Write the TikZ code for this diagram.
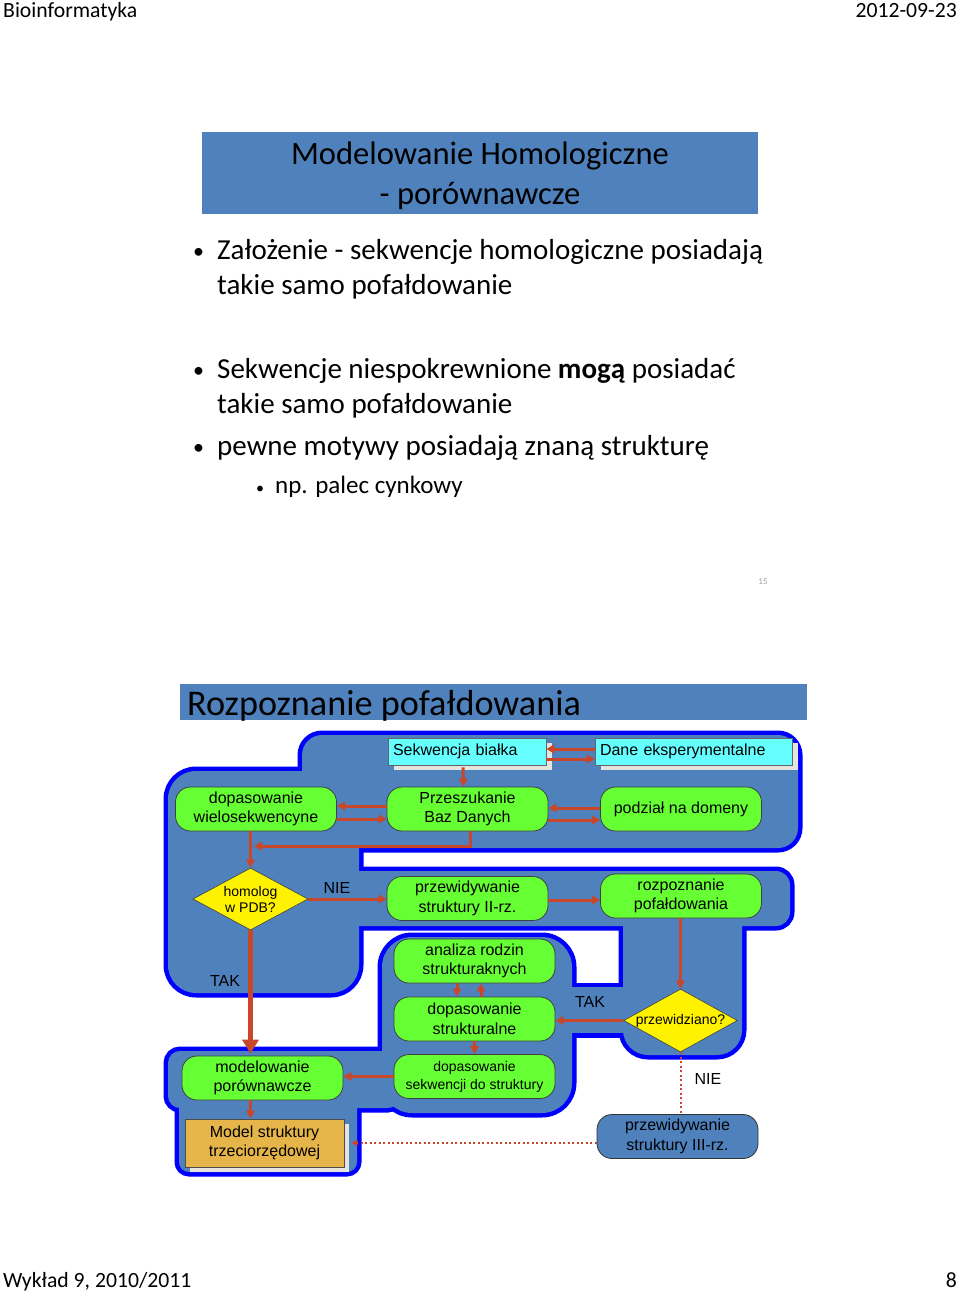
\documentclass[tikz,border=0pt]{standalone}
\usepackage{fontspec}
\setmainfont{Carlito}
\newfontfamily\arial{Liberation Sans}
\usetikzlibrary{arrows.meta,shapes.geometric}
\definecolor{hdr}{HTML}{4F81BD}
\definecolor{regline}{HTML}{0000FF}
\definecolor{grn}{HTML}{66FF33}
\definecolor{cyanbox}{HTML}{66FFFF}
\definecolor{goldbox}{HTML}{E6B54A}
\definecolor{arr}{HTML}{C8462A}
\definecolor{shad}{HTML}{E6E4DE}
\definecolor{pgnum}{HTML}{A0A0A0}
\begin{document}
\begin{tikzpicture}[x=1pt,y=-1pt,
  slidetxt/.style={anchor=base west, inner sep=0pt, font=\fontsize{29}{35}\selectfont},
  bultxt/.style={anchor=base west, inner sep=0pt, font=\fontsize{22}{26}\selectfont},
  subtxt/.style={anchor=base west, inner sep=0pt, font=\fontsize{25}{30}\selectfont},
  hdrtxt/.style={anchor=base west, inner sep=0pt, font=\fontsize{21.7}{26}\selectfont},
  gnode/.style={draw=black!75, line width=0.8pt, fill=grn, rounded corners=15pt, minimum width=161pt, minimum height=44pt, align=center, inner sep=0pt, font=\arial\fontsize{16}{19.5}\selectfont},
  cnode/.style={draw=black!60, line width=0.6pt, fill=cyanbox, minimum height=27pt, inner ysep=0pt, inner xsep=5pt, align=left, font=\arial\fontsize{16}{19}\selectfont},
  dnode/.style={diamond, aspect=1.85, draw=black!75, line width=0.6pt, fill=yellow, minimum width=115pt, minimum height=62pt, inner sep=0pt, align=center, font=\arial\fontsize{14}{16}\selectfont},
  lbl/.style={inner sep=0pt, font=\arial\fontsize{16}{19}\selectfont},
  arw/.style={draw=arr, line width=3pt, -{Triangle[length=8pt,width=8.5pt]}},
  thickarw/.style={draw=arr, line width=5.5pt, -{Triangle[length=14pt,width=16pt]}},
  dotline/.style={draw=arr, line width=2pt, dash pattern=on 2pt off 2.5pt},
  regborder/.style={draw=regline, line width=9pt},
]
\useasboundingbox (0,0) rectangle (960,1292);
\fill[white] (0,0) rectangle (960,1292);

% page header / footer
\node[hdrtxt] (hl) at (3,18) {Bioinformatyka};
\node[hdrtxt, anchor=base east] (hr) at (957,18) {2012-09-23};
\node[hdrtxt] (fl) at (3,1287) {Wykład 9, 2010/2011};
\node[hdrtxt, anchor=base east] (fr) at (957,1287) {8};

% slide 1
\fill[hdr] (202,132) rectangle (758,214);
\node[inner sep=0pt, align=center, font=\fontsize{32.6}{39.5}\selectfont] (t1) at (480,176) {Modelowanie Homologiczne\\- porównawcze};
\node[bultxt] (b1) at (193,258) {•};
\node[slidetxt] (s1) at (217,259) {Założenie - sekwencje homologiczne posiadają};
\node[slidetxt] (s1b) at (217,294) {takie samo pofałdowanie};
\node[bultxt] (b2) at (193,377) {•};
\node[slidetxt] (s2) at (217,378) {Sekwencje niespokrewnione \textbf{mogą} posiadać};
\node[slidetxt] (s2b) at (217,413) {takie samo pofałdowanie};
\node[bultxt] (b3) at (193,454) {•};
\node[slidetxt] (s3) at (217,455) {pewne motywy posiadają znaną strukturę};
\node[subtxt] (b4) at (256,493) {\fontsize{16}{18}\selectfont •};
\node[subtxt] (s4) at (275,493) {np. palec cynkowy};
\node[inner sep=0pt, text=pgnum, font=\fontsize{9}{10}\selectfont] (pn) at (763,582) {15};

% slide 2 header
\fill[hdr] (180,684) rectangle (807,720);
\node[anchor=base west, inner sep=0pt, font=\fontsize{36.2}{42}\selectfont] (t2) at (187,715) {Rozpoznanie pofałdowania};

% blue regions: borders first
\path[regborder, rounded corners=20pt] (302,735) rectangle (798,848);
\path[regborder, rounded corners=28pt] (168,771) rectangle (359,993);
\path[regborder, rounded corners=14pt] (330,871) rectangle (790,926);
\path[regborder, rounded corners=25pt] (623,900) rectangle (742,1055);
\path[regborder, rounded corners=30pt] (382,937) rectangle (572,1113);
\path[regborder] (560,987) rectangle (635,1033);
\path[regborder, rounded corners=12pt] (168,1051) rectangle (400,1108);
\path[regborder, rounded corners=10pt] (179,1095) rectangle (357,1172);
% then fills
\fill[hdr, rounded corners=20pt] (302,735) rectangle (798,848);
\fill[hdr, rounded corners=28pt] (168,771) rectangle (359,993);
\fill[hdr, rounded corners=14pt] (330,871) rectangle (790,926);
\fill[hdr, rounded corners=25pt] (623,900) rectangle (742,1055);
\fill[hdr, rounded corners=30pt] (382,937) rectangle (572,1113);
\fill[hdr] (560,987) rectangle (635,1033);
\fill[hdr, rounded corners=12pt] (168,1051) rectangle (400,1108);
\fill[hdr, rounded corners=10pt] (179,1095) rectangle (357,1172);

% cyan boxes with shadows
\fill[shad] (394,743) rectangle (552,770);
\fill[shad] (601,743) rectangle (798,770);
\node[cnode, text width=148pt] (sekw) at (467,751.5) {Sekwencja białka};
\node[cnode, text width=187pt] (dane) at (693.5,751.5) {Dane eksperymentalne};

% green nodes
\node[gnode] (dop) at (256,809) {dopasowanie\\wielosekwencyne};
\node[gnode] (prz) at (467.5,809) {Przeszukanie\\Baz Danych};
\node[gnode] (pod) at (681,809) {podział na domeny};
\node[gnode] (ps2) at (467.5,898.5) {przewidywanie\\struktury II-rz.};
\node[gnode] (roz) at (681,896) {rozpoznanie\\pofałdowania};
\node[gnode] (ana) at (474.5,961) {analiza rodzin\\strukturaknych};
\node[gnode] (dst) at (474.5,1019) {dopasowanie\\strukturalne};
\node[gnode, font=\arial\fontsize{14}{18}\selectfont] (dsk) at (474.5,1076.5) {dopasowanie\\sekwencji do struktury};
\node[gnode] (mod) at (262.5,1078) {modelowanie\\porównawcze};

% Model box with shadow
\fill[shad] (190,1124) rectangle (349,1172);
\node[draw=black!70, line width=0.8pt, fill=goldbox, minimum width=159pt, minimum height=48pt, inner sep=0pt, align=center, font=\arial\fontsize{16}{19.5}\selectfont] (model) at (264.5,1143) {Model struktury\\trzeciorzędowej};

% III-rz node
\node[gnode, fill=hdr, draw=black!80] (p3) at (677.5,1136.5) {przewidywanie\\struktury III-rz.};

% diamonds
\node[dnode] (hom) at (250.5,899) {homolog\\w PDB?};
\node[dnode, minimum width=113pt, minimum height=63pt] (prd) at (680.5,1020.5) {przewidziano?};

% labels
\node[lbl] (nie1) at (337,888) {NIE};
\node[lbl] (tak1) at (225,981) {TAK};
\node[lbl] (tak2) at (590,1002) {TAK};
\node[lbl] (nie2) at (708,1079) {NIE};

% arrows
\draw[arw] ([yshift=2.5pt]dane.west) -- ([yshift=2.5pt]sekw.east);
\draw[arw] ([yshift=-7.5pt]sekw.east) -- ([yshift=-7.5pt]dane.west);
\draw[arw] ([xshift=-4pt,yshift=-2pt]sekw.south) -- ([xshift=-4pt]prz.north);
\draw[arw] ([yshift=3pt]prz.west) -- ([yshift=3pt]dop.east);
\draw[arw] ([yshift=-10pt]dop.east) -- ([yshift=-10pt]prz.west);
\draw[arw] ([yshift=1pt]pod.west) -- ([yshift=1pt]prz.east);
\draw[arw] ([yshift=-11pt]prz.east) -- ([yshift=-11pt]pod.west);
\coordinate (j1) at (254,846);
\draw[arw] ([xshift=2.5pt]prz.south) |- (j1);
\draw[arw] (dop.south -| hom.north) -- (hom.north);
\draw[arw] (hom.east) -- (hom.east -| ps2.west);
\draw[arw] ([yshift=-1.5pt]ps2.east) -- ([yshift=-1.5pt]ps2.east -| roz.west);
\draw[arw] (roz.south -| prd.north) -- (prd.north);
\draw[arw] (prd.west) -- (prd.west -| dst.east);
\draw[arw] ([xshift=-17.5pt]ana.south) -- ([xshift=-17.5pt]dst.north);
\draw[arw] ([xshift=6.5pt]dst.north) -- ([xshift=6.5pt]ana.south);
\draw[arw] (dst.south) -- (dsk.north);
\draw[arw] (dsk.west) -- (dsk.west -| mod.east);
\draw[arw] (mod.south -| hom.south) -- (model.north -| hom.south);
\draw[thickarw, shorten >=2pt] (hom.south) -- (hom.south |- mod.north);
\draw[dotline] (prd.south) -- (prd.south |- p3.north);
\draw[dotline, -{Triangle[length=6pt,width=6pt]}] (p3.west |- model.east) -- ([xshift=7pt]model.east);
\end{tikzpicture}
\end{document}
